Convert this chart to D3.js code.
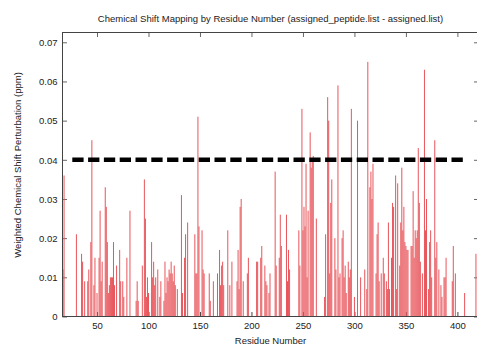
<!DOCTYPE html>
<html>
<head>
<meta charset="utf-8">
<script src="https://cdn.jsdelivr.net/npm/d3@7"></script>
<style>
	body { margin: 0; background: white; }
	text { font-family: 'Liberation Sans', Arial, sans-serif; fill: #222; }
</style>
</head>
<body>
<div id="chart"></div>
<script>
// residue numbers and weighted shift perturbations (ppm)
var residues = [17, 18, 30, 35, 36, 38, 41, 42, 44, 45, 47, 48, 50, 52, 53, 54, 55, 58, 59, 60,
	61, 62, 63, 64, 65, 66, 67, 69, 72, 73, 75, 76, 79, 82,
	88, 89, 90, 94, 96, 97, 98, 99, 100, 103, 104, 105, 106, 107, 109, 111, 112, 115, 116, 117,
	118, 119, 120, 121, 122, 123, 124, 125, 126, 128, 132, 133, 135, 136, 138, 145, 146, 147, 148, 149,
	152, 153, 154, 159, 160, 163, 167, 169, 170, 171, 172, 173, 177, 179, 181, 186, 187, 188, 189, 190,
	192, 196, 197, 205, 206, 209, 210, 213, 214, 215, 217, 218,
	223, 224, 227, 228, 229, 234, 235, 236, 237, 246, 247, 249, 250, 251, 252, 253, 254, 255, 257, 258,
	259, 260, 263, 271, 272, 274, 275, 276, 277, 278, 281, 282, 284,
	285, 286, 288, 289, 290, 291, 292, 294, 295, 296, 297, 300, 303, 306, 310, 312, 313, 315, 316, 317,
	318, 321, 322, 323, 324, 326, 328, 329, 331, 332, 333, 334, 336, 337, 338, 340, 341, 342, 344, 345,
	346, 347, 348, 349, 350, 351, 352, 355, 356, 357, 358, 359, 360, 361, 362, 363, 364, 366, 368, 369,
	370, 372, 373, 374, 375, 378, 379, 380, 382, 384, 385, 387, 388, 389, 395, 396, 398, 407, 418];

var shifts = [0.012, 0.036, 0.021, 0.016, 0.014, 0.009, 0.009, 0.012, 0.019, 0.045, 0.008, 0.015, 0.006, 0.015, 0.027, 0.009, 0.014, 0.033, 0.028, 0.019,
	0.006, 0.008, 0.010, 0.010, 0.010, 0.019, 0.008, 0.013, 0.017, 0.009, 0.009, 0.005, 0.015, 0.027,
	0.004, 0.009, 0.004, 0.013, 0.035, 0.025, 0.005, 0.010, 0.006, 0.019, 0.010, 0.014, 0.008, 0.010, 0.012, 0.005, 0.009, 0.004, 0.014, 0.006,
	0.010, 0.009, 0.012, 0.011, 0.014, 0.011, 0.009, 0.013, 0.008, 0.007, 0.031, 0.006, 0.015, 0.021, 0.024, 0.021, 0.011, 0.011, 0.051, 0.023,
	0.022, 0.012, 0.011, 0.011, 0.004, 0.009, 0.011, 0.017, 0.008, 0.013, 0.014, 0.008, 0.022, 0.008, 0.014, 0.009, 0.017, 0.007, 0.028, 0.030,
	0.009, 0.011, 0.015, 0.014, 0.014, 0.015, 0.018, 0.013, 0.009, 0.008, 0.006, 0.011,
	0.037, 0.013, 0.015, 0.026, 0.018, 0.026, 0.009, 0.017, 0.012, 0.022, 0.013, 0.053, 0.022, 0.028, 0.023, 0.039, 0.010, 0.027, 0.047, 0.038,
	0.040, 0.041, 0.025, 0.005, 0.021, 0.056, 0.050, 0.011, 0.029, 0.035, 0.020, 0.012, 0.059,
	0.010, 0.011, 0.020, 0.022, 0.010, 0.013, 0.006, 0.014, 0.010, 0.012, 0.053, 0.005, 0.050, 0.010, 0.012, 0.007, 0.065, 0.033, 0.037, 0.030,
	0.039, 0.011, 0.021, 0.024, 0.009, 0.011, 0.015, 0.011, 0.009, 0.007, 0.024, 0.007, 0.015, 0.029, 0.028, 0.036, 0.007, 0.034, 0.013, 0.024,
	0.038, 0.022, 0.028, 0.019, 0.018, 0.017, 0.017, 0.018, 0.018, 0.032, 0.015, 0.022, 0.020, 0.022, 0.043, 0.029, 0.014, 0.011, 0.063, 0.022,
	0.030, 0.007, 0.019, 0.022, 0.010, 0.045, 0.015, 0.019, 0.012, 0.008, 0.005, 0.010, 0.010, 0.015, 0.009, 0.018, 0.011, 0.006, 0.016];

var x_ticks = [50, 100, 150, 200, 250, 300, 350, 400];
var y_ticks = [0, 0.01, 0.02, 0.03, 0.04, 0.05, 0.06, 0.07];
var threshold = 0.04;
var threshold_span = [26, 409.3];

var title = 'Chemical Shift Mapping by Residue Number (assigned_peptide.list - assigned.list)';
var x_label = 'Residue Number';
var y_label = 'Weighted Chemical Shift Perturbation (ppm)';

var width = 477;
var height = 347;
var box = {left: 62.5, top: 32.5, right: 478.5, bottom: 316.5};
var font_size = '9.5px';

var svg = d3.select('#chart')
	.append('svg')
	.attr('width', width)
	.attr('height', height);

var x = d3.scaleLinear()
	.domain([16, 420])
	.range([62, 478]);

var y = d3.scaleLinear()
	.domain([0, 0.0725])
	.range([box.bottom, box.top]);

// ticks (gnuplot style: inward, mirrored)
svg.append('g')
	.attr('transform', 'translate(' + box.left + ',0)')
	.call(d3.axisLeft(y).tickValues(y_ticks).tickSize(-4.5).tickPadding(5)
		.tickFormat(d => d === 0 ? '0' : d3.format('.2f')(d)))
	.call(g => g.select('.domain').remove())
	.call(g => g.selectAll('line').attr('stroke', '#666'))
	.call(g => g.selectAll('text').style('font-size', font_size).attr('fill', '#222').attr('dy', '0.35em'));

svg.append('g')
	.attr('transform', 'translate(' + box.right + ',0)')
	.call(d3.axisRight(y).tickValues(y_ticks).tickSize(-4.5).tickFormat(''))
	.call(g => g.select('.domain').remove())
	.call(g => g.selectAll('line').attr('stroke', '#666'));

svg.append('g')
	.attr('transform', 'translate(0,' + box.bottom + ')')
	.call(d3.axisBottom(x).tickValues(x_ticks).tickSize(-4.5).tickPadding(6))
	.call(g => g.select('.domain').remove())
	.call(g => g.selectAll('line').attr('stroke', '#444'))
	.call(g => g.selectAll('text').style('font-size', font_size).attr('fill', '#222'));

svg.append('g')
	.attr('transform', 'translate(0,' + box.top + ')')
	.call(d3.axisTop(x).tickValues(x_ticks).tickSize(-4.5).tickFormat(''))
	.call(g => g.select('.domain').remove())
	.call(g => g.selectAll('line').attr('stroke', '#666'));

// impulses
var data = residues.map((r, i) => ({res: r, val: shifts[i]}));

svg.append('g')
	.selectAll('rect')
	.data(data)
	.enter()
	.append('rect')
		.attr('x', d => x(d.res) - 0.5)
		.attr('y', d => y(d.val))
		.attr('width', 1)
		.attr('height', d => y(0) - y(d.val))
		.attr('fill', '#e8565c');

// cutoff line
svg.append('line')
	.attr('x1', x(threshold_span[0]))
	.attr('x2', x(threshold_span[1]))
	.attr('y1', y(threshold))
	.attr('y2', y(threshold))
	.attr('stroke', 'black')
	.attr('stroke-width', 4.5)
	.attr('stroke-dasharray', '11.3,4.5');

// border
svg.append('rect')
	.attr('x', box.left)
	.attr('y', box.top)
	.attr('width', box.right - box.left)
	.attr('height', box.bottom - box.top)
	.attr('fill', 'none')
	.attr('stroke', '#444')
	.attr('stroke-width', 1);

// labels
svg.append('text')
	.attr('x', (box.left + box.right) / 2)
	.attr('y', 21.5)
	.attr('text-anchor', 'middle')
	.style('font-size', font_size)
	.text(title);

svg.append('text')
	.attr('x', (box.left + box.right) / 2)
	.attr('y', 343.5)
	.attr('text-anchor', 'middle')
	.style('font-size', font_size)
	.text(x_label);

svg.append('text')
	.attr('transform', 'translate(20.5,165) rotate(-90)')
	.attr('text-anchor', 'middle')
	.style('font-size', font_size)
	.text(y_label);
</script>
</body>
</html>
